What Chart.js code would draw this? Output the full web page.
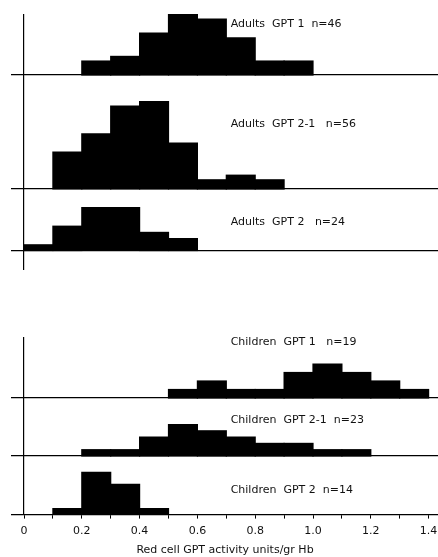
<!DOCTYPE html>
<html>
<head>
<meta charset="utf-8">
<script src="https://cdn.jsdelivr.net/npm/chart.js@4.4.1/dist/chart.umd.min.js"></script>
<style>
  html, body { margin: 0; padding: 0; background: #fff; }
  #wrap { position: relative; width: 438px; height: 557px; overflow: hidden; }
  #wrap canvas { position: absolute; left: 0; }
</style>
</head>
<body>
<div id="wrap"></div>
<script>
// bin start values (units/gr Hb), every bin is 0.1 wide
const adults1Bins = [0.2, 0.3, 0.4, 0.5, 0.6, 0.7, 0.8, 0.9];
const adults1Counts = [3, 4, 9, 13, 12, 8, 3, 3];

const adults21Bins = [0.1, 0.2, 0.3, 0.4, 0.5, 0.6, 0.7, 0.8];
const adults21Counts = [8, 12, 18, 19, 10, 2, 3, 2];

const adults2Bins = [0.0, 0.1, 0.2, 0.3, 0.4, 0.5];
const adults2Counts = [1, 4, 7, 7, 3, 2];

const children1Bins = [0.5, 0.6, 0.7, 0.8, 0.9, 1.0, 1.1, 1.2, 1.3];
const children1Counts = [1, 2, 1, 1, 3, 4, 3, 2, 1];

const children21Bins = [0.2, 0.3, 0.4, 0.5, 0.6, 0.7, 0.8, 0.9, 1.0, 1.1];
const children21Counts = [1, 1, 3, 5, 4, 3, 2, 2, 1, 1];

const children2Bins = [0.1, 0.2, 0.3, 0.4];
const children2Counts = [1, 7, 5, 1];

const panelLabels = [
  'Adults  GPT 1  n=46',
  'Adults  GPT 2-1   n=56',
  'Adults  GPT 2   n=24',
  'Children  GPT 1   n=19',
  'Children  GPT 2-1  n=23',
  'Children  GPT 2  n=14',
];

const xTickValues = [0, 0.1, 0.2, 0.3, 0.4, 0.5, 0.6, 0.7, 0.8, 0.9, 1.0, 1.1, 1.2, 1.3, 1.4];
const xTickLabels = ['0', '0.2', '0.4', '0.6', '0.8', '1.0', '1.2', '1.4'];
const xTitle = 'Red cell GPT activity units/gr Hb';

const BIN = 0.1;
const FONT = 'DejaVu Sans';

// page layout of the six strips (pixels)
const panels = [
  { bins: adults1Bins, counts: adults1Counts, top: 14, padTop: 0, height: 71, below: 10, ppu: 4.65, labelY: 24 },
  { bins: adults21Bins, counts: adults21Counts, top: 85, padTop: 0, height: 114, below: 10, ppu: 4.6, labelY: 124 },
  { bins: adults2Bins, counts: adults2Counts, top: 199, padTop: 0, height: 71, below: 19, ppu: 6.2, labelY: 222 },
  { bins: children1Bins, counts: children1Counts, top: 328, padTop: 10, height: 80, below: 10, ppu: 8.5, labelY: 342 },
  { bins: children21Bins, counts: children21Counts, top: 408, padTop: 0, height: 58, below: 10, ppu: 6.3, labelY: 420 },
  { bins: children2Bins, counts: children2Counts, top: 466, padTop: 0, height: 91, below: 0, ppu: 6.1, labelY: 490 },
];

const panelLabel = {
  id: 'panelLabel',
  afterDraw(chart, args, opts) {
    const ctx = chart.ctx;
    ctx.save();
    ctx.font = '11px ' + FONT;
    ctx.fillStyle = '#111';
    ctx.textBaseline = 'middle';
    ctx.fillText(opts.text, chart.scales.x.getPixelForValue(0.715), opts.y);
    ctx.restore();
  }
};

const wrap = document.getElementById('wrap');

panels.forEach((p, i) => {
  const last = i === panels.length - 1;
  const canvas = document.createElement('canvas');
  canvas.width = 438;
  canvas.height = p.height;
  canvas.style.top = p.top + 'px';
  wrap.appendChild(canvas);

  const areaH = last ? 49 : p.height - p.padTop;
  const yMin = -p.below / p.ppu;
  const yMax = (areaH - p.below) / p.ppu;

  const xScale = {
    type: 'linear',
    min: -12 / 289,
    max: 414 / 289,
    offset: false,
    afterBuildTicks: (axis) => { axis.ticks = xTickValues.map(v => ({ value: v })); },
    grid: { offset: false, drawOnChartArea: false, drawTicks: last, tickLength: 4, color: '#000', lineWidth: 1 },
    border: { display: true, color: '#000', width: 1.2 },
    ticks: {
      display: last,
      autoSkip: false,
      maxRotation: 0,
      padding: 6,
      color: '#111',
      font: { family: FONT, size: 11 },
      callback: (v, idx) => (idx % 2 === 0 ? xTickLabels[idx / 2] : ''),
    },
  };
  if (last) {
    xScale.position = 'bottom';
    xScale.title = { display: true, text: xTitle, color: '#111', font: { family: FONT, size: 11 }, padding: { top: 0, bottom: 0 } };
    xScale.afterFit = (s) => { s.paddingLeft = 0; s.paddingRight = 0; };
  } else {
    xScale.position = { y: 0 };
  }

  new Chart(canvas, {
    type: 'bar',
    data: {
      datasets: [{
        data: p.bins.map((b, k) => ({ x: b + BIN / 2, y: p.counts[k] })),
        backgroundColor: '#000',
        borderWidth: 0,
        inflateAmount: 0.6,
        barPercentage: 1,
        categoryPercentage: 1,
      }],
    },
    options: {
      responsive: false,
      animation: false,
      layout: { padding: { left: 12, right: 0, top: p.padTop, bottom: 0 } },
      plugins: {
        legend: { display: false },
        tooltip: { enabled: false },
        panelLabel: { text: panelLabels[i], y: p.labelY - p.top },
      },
      scales: {
        x: xScale,
        y: {
          type: 'linear',
          min: yMin,
          max: yMax,
          position: { x: 0 },
          ticks: { display: false },
          grid: { drawOnChartArea: false, drawTicks: false },
          border: { display: true, color: '#000', width: 1.2 },
        },
      },
    },
    plugins: [panelLabel],
  });
});
</script>
</body>
</html>
